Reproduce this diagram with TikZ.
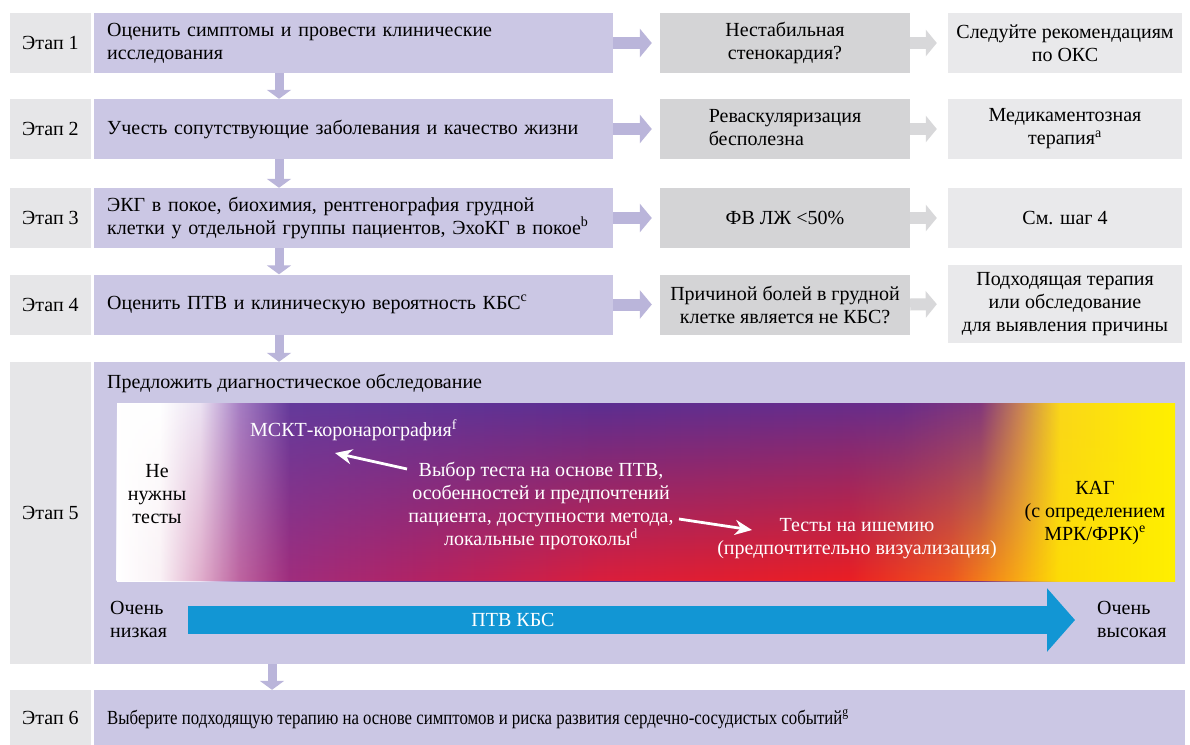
\documentclass[tikz,border=0pt]{standalone}
\usepackage{fontspec}
\setmainfont{Liberation Serif}
\usetikzlibrary{arrows.meta,fadings}
\definecolor{labgray}{RGB}{230,230,232}
\definecolor{purp}{RGB}{203,199,228}
\definecolor{midgray}{RGB}{212,212,214}
\definecolor{ltgray}{RGB}{233,233,235}
\definecolor{parrow}{RGB}{186,181,218}
\definecolor{garrow}{RGB}{216,216,218}
\definecolor{blueA}{RGB}{18,150,212}
\definecolor{tA}{RGB}{236,226,242}
\definecolor{tB}{RGB}{165,125,195}
\definecolor{tC}{RGB}{100,58,155}
\definecolor{tD}{RGB}{92,46,145}
\definecolor{tE}{RGB}{105,45,138}
\definecolor{tF}{RGB}{130,55,125}
\definecolor{tG}{RGB}{200,130,85}
\definecolor{tH}{RGB}{250,215,25}
\definecolor{yelA}{RGB}{255,240,0}
\definecolor{bA}{RGB}{250,242,246}
\definecolor{bB}{RGB}{225,175,205}
\definecolor{bC}{RGB}{190,100,160}
\definecolor{bD}{RGB}{160,45,125}
\definecolor{bE}{RGB}{178,35,100}
\definecolor{bF}{RGB}{218,30,60}
\definecolor{bG}{RGB}{235,30,35}
\definecolor{bH}{RGB}{240,85,30}
\definecolor{bI}{RGB}{248,170,20}
\definecolor{bJ}{RGB}{253,220,5}
\pgfdeclarehorizontalshading{gradtop}{100bp}{color(0bp)=(white); color(25bp)=(white); color(27.03bp)=(white); color(28.92bp)=(tA); color(30.81bp)=(tB); color(33.18bp)=(tC); color(47.83bp)=(tD); color(62bp)=(tE); color(65.79bp)=(tF); color(67.67bp)=(tG); color(69.57bp)=(tH); color(75bp)=(yelA); color(100bp)=(yelA)}
\pgfdeclarehorizontalshading{gradbot}{100bp}{color(0bp)=(white); color(25bp)=(white); color(27.03bp)=(bA); color(28.92bp)=(bB); color(30.81bp)=(bC); color(33.18bp)=(bD); color(39.32bp)=(bE); color(47.83bp)=(bF); color(59.64bp)=(bG); color(64.37bp)=(bH); color(67.67bp)=(bI); color(69.57bp)=(bJ); color(75bp)=(yelA); color(100bp)=(yelA)}
\tikzfading[name=redfade, top color=transparent!100, middle color=transparent!75, bottom color=transparent!0]
\begin{document}
\begin{tikzpicture}[x=1pt,y=-1pt,
  every node/.style={font=\fontsize{20}{23}\selectfont, inner sep=0pt},
  lab/.style={fill=labgray, minimum width=81pt},
  pbox/.style={fill=purp, anchor=west, minimum width=519pt, text width=493pt, align=left, inner xsep=13pt},
  mbox/.style={fill=midgray, minimum width=250pt, align=center},
  rbox/.style={fill=ltgray, minimum width=234pt, align=center},
  parr/.style={draw=parrow, line width=12pt, -{Triangle[width=28pt,length=12pt]}, shorten >=8pt},
  garr/.style={draw=garrow, line width=12pt, -{Triangle[width=26pt,length=11pt]}, shorten >=11pt},
  darr/.style={draw=parrow, line width=9pt, -{Triangle[width=24pt,length=9pt]}},
  warr/.style={draw=white, line width=2.8pt, -{Stealth[length=17pt,width=15pt]}},
  wtext/.style={text=white, align=center}
]
\useasboundingbox (0,0) rectangle (1190,744);
\fill[white] (0,0) rectangle (1190,744);
% Row 1
\node[lab, minimum height=60pt] (L1) at (50.5,43) {Этап 1};
\node[pbox, minimum height=60pt] (P1) at (94,43) {Оценить симптомы и провести клинические\\исследования};
\node[mbox, minimum height=60pt] (M1) at (785,43) {Нестабильная\\стенокардия?};
\node[rbox, minimum height=60pt] (R1) at (1065,43) {Следуйте рекомендациям\\по ОКС};
% Row 2
\node[lab, minimum height=60pt] (L2) at (50.5,129) {Этап 2};
\node[pbox, minimum height=60pt] (P2) at (94,129) {Учесть сопутствующие заболевания и качество жизни};
\node[mbox, minimum height=60pt] (M2) at (785,129) {\begin{tabular}{@{}l@{}}Реваскуляризация\\бесполезна\end{tabular}};
\node[rbox, minimum height=60pt] (R2) at (1065,129) {Медикаментозная\\терапия\textsuperscript{a}};
% Row 3
\node[lab, minimum height=60pt] (L3) at (50.5,218) {Этап 3};
\node[pbox, minimum height=60pt] (P3) at (94,218) {ЭКГ в покое, биохимия, рентгенография грудной\\клетки у отдельной группы пациентов, ЭхоКГ в покое\textsuperscript{b}};
\node[mbox, minimum height=60pt] (M3) at (785,218) {ФВ ЛЖ <50\%};
\node[rbox, minimum height=60pt] (R3) at (1065,218) {См. шаг 4};
% Row 4
\node[lab, minimum height=60pt] (L4) at (50.5,304.5) {Этап 4};
\node[pbox, minimum height=60pt] (P4) at (94,304.5) {Оценить ПТВ и клиническую вероятность КБС\textsuperscript{c}};
\node[mbox, minimum height=60pt] (M4) at (785,304.5) {Причиной болей в грудной\\клетке является не КБС?};
\node[rbox, minimum height=78pt] (R4) at (1065,304) {Подходящая терапия\\или обследование\\для выявления причины};
% Row 5
\node[lab, minimum height=302pt] (L5) at (50.5,513) {Этап 5};
\node[fill=purp, minimum width=1091pt, minimum height=302pt, anchor=west] (P5) at (94,513) {};
\node[anchor=west] (P5t) at (107,383) {Предложить диагностическое обследование};
\shade[shading=gradtop] (117,403) rectangle (1175,581);
\shade[shading=gradbot, path fading=redfade] (117,403) rectangle (1175,581);
\node[align=center] (notest) at (157,494) {Не\\нужны\\тесты};
\node[text=white, anchor=west] (mskt) at (250,430) {МСКТ-коронарография\textsuperscript{f}};
\node[wtext] (choice) at (541,506) {Выбор теста на основе ПТВ,\\особенностей и предпочтений\\пациента, доступности метода,\\локальные протоколы\textsuperscript{d}};
\node[wtext] (isch) at (857,538.5) {Тесты на ишемию\\(предпочтительно визуализация)};
\node[align=center] (kag) at (1095,513) {КАГ\\(с определением\\МРК/ФРК)\textsuperscript{e}};
\coordinate (w1s) at (407,469);
\coordinate (w1e) at (335,453);
\coordinate (w2s) at (679,519);
\coordinate (w2e) at (752,530);
\draw[warr] (w1s) -- (w1e);
\draw[warr] (w2s) -- (w2e);
\coordinate (bs) at (188,620);
\coordinate (be) at (1075,620);
\draw[draw=blueA, line width=28pt, -{Triangle[width=62pt,length=28pt]}] (bs) -- (be);
\node[text=white] (ptv) at (513,620) {ПТВ КБС};
\node[anchor=west, align=left] (vlow) at (110,619) {Очень\\низкая};
\node[anchor=west, align=left] (vhigh) at (1097,619) {Очень\\высокая};
% Row 6
\node[lab, minimum height=56pt] (L6) at (50.5,718) {Этап 6};
\node[fill=purp, minimum width=1091pt, minimum height=56pt, anchor=west] (P6) at (94,718) {};
\node[anchor=west] (P6t) at (107,719) {\scalebox{0.84}[1]{Выберите подходящую терапию на основе симптомов и риска развития сердечно-сосудистых событий\textsuperscript{g}}};
% arrows
\coordinate (ax) at (279,0);
\coordinate (ax2) at (272,0);
\draw[darr] (P1.south -| ax) -- (P2.north -| ax);
\draw[darr] (P2.south -| ax) -- (P3.north -| ax);
\draw[darr] (P3.south -| ax) -- (P4.north -| ax);
\draw[darr] (P4.south -| ax) -- (P5.north -| ax);
\draw[darr] (P5.south -| ax2) -- (P6.north -| ax2);
\draw[parr] (P1.east) -- (M1.west);
\draw[parr] (P2.east) -- (M2.west);
\draw[parr] (P3.east) -- (M3.west);
\draw[parr] (P4.east) -- (M4.west);
\draw[garr] (M1.east) -- (R1.west);
\draw[garr] (M2.east) -- (R2.west);
\draw[garr] (M3.east) -- (R3.west);
\draw[garr] (M4.east) -- (R4.west);
\end{tikzpicture}
\end{document}
